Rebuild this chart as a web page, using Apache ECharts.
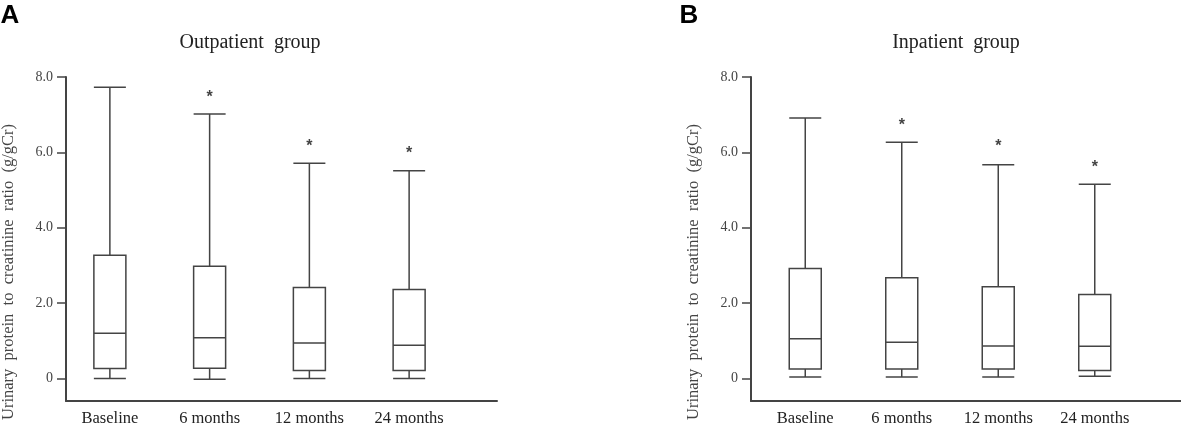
<!DOCTYPE html>
<html>
<head>
<meta charset="utf-8">
<script src="https://cdn.jsdelivr.net/npm/echarts@6/dist/echarts.min.js"></script>
<style>
  html, body { margin: 0; padding: 0; background: #fff; }
  #chart { width: 1181px; height: 423px; }
</style>
</head>
<body>
<div id="chart"></div>
<script>
'use strict';

// categories and tick labels
var categories = ['Baseline', '6 months', '12 months', '24 months'];
var yTicks = [0, 2, 4, 6, 8];

// [min, Q1, median, Q3, max]
var outpatientBoxes = [
    [0.00, 0.26, 1.20, 3.27, 7.73],
    [-0.02, 0.27, 1.08, 2.98, 7.02],
    [0.00, 0.21, 0.94, 2.41, 5.71],
    [0.00, 0.21, 0.88, 2.36, 5.51]
];
var inpatientBoxes = [
    [0.04, 0.25, 1.05, 2.92, 6.91],
    [0.04, 0.25, 0.96, 2.67, 6.27],
    [0.04, 0.25, 0.86, 2.43, 5.67],
    [0.06, 0.21, 0.85, 2.23, 5.15]
];
// height of the significance stars
var outpatientStars = ['-', 7.54, 6.22, 6.05];
var inpatientStars = ['-', 6.79, 6.22, 5.68];

var serif = '"Liberation Serif", "DejaVu Serif", serif';
var sans = '"Liberation Sans", Arial, sans-serif';
var yMin = -0.6, yMax = 8;

function frameY(grid) {
    return {
        type: 'value', gridIndex: grid, min: yMin, max: yMax,
        axisLine: { show: true, lineStyle: { color: '#444', width: 2 } },
        axisTick: { show: true, length: 9, customValues: yTicks, lineStyle: { color: '#444', width: 1.5 } },
        axisLabel: {
            show: true, customValues: yTicks, margin: 13,
            fontFamily: serif, fontSize: 14, color: '#444',
            formatter: function (v) { return v === 0 ? '0' : v.toFixed(1); }
        },
        splitLine: { show: false }
    };
}
function hiddenY(grid) {
    return { type: 'value', gridIndex: grid, min: yMin, max: yMax, show: false };
}
function frameX(grid) {
    return {
        type: 'value', gridIndex: grid, min: 0, max: 1,
        axisLine: { show: true, onZero: false, lineStyle: { color: '#444', width: 2 } },
        axisTick: { show: false }, axisLabel: { show: false }, splitLine: { show: false }
    };
}
function boxX(grid) {
    return {
        type: 'category', gridIndex: grid, data: categories,
        axisLine: { show: false }, axisTick: { show: false },
        axisLabel: { margin: 9, fontFamily: serif, fontSize: 16.5, color: '#222' }
    };
}
function boxSeries(axis, data) {
    return {
        type: 'boxplot', xAxisIndex: axis, yAxisIndex: axis, data: data,
        boxWidth: [32, 32], silent: true,
        itemStyle: { color: '#fff', borderColor: '#444', borderWidth: 1.5 },
        emphasis: { disabled: true }
    };
}
function starSeries(axis, data) {
    return {
        type: 'scatter', xAxisIndex: axis, yAxisIndex: axis, data: data,
        symbolSize: 1, silent: true, itemStyle: { color: 'rgba(0,0,0,0)' },
        label: {
            show: true, position: 'inside', formatter: '*', offset: [0, 3],
            fontFamily: sans, fontSize: 16, fontWeight: 'bold', color: '#111'
        }
    };
}
function sideText(x, y, text, size, rot, extra) {
    var style = { text: text, fontFamily: serif, fontSize: size, fill: '#222', textAlign: 'center', textVerticalAlign: 'middle' };
    for (var k in extra) style[k] = extra[k];
    return { type: 'text', x: x, y: y, rotation: rot, style: style, silent: true };
}
function grid(left, width) {
    return { left: left, top: 77, width: width, height: 324, containLabel: false, outerBoundsMode: 'none' };
}

var chart = echarts.init(document.getElementById('chart'));
chart.setOption({
    animation: false,
    grid: [grid(66, 431), grid(60, 399), grid(751, 430), grid(757, 386)],
    xAxis: [frameX(0), boxX(1), frameX(2), boxX(3)],
    yAxis: [frameY(0), hiddenY(1), frameY(2), hiddenY(3)],
    series: [
        boxSeries(1, outpatientBoxes),
        starSeries(1, outpatientStars),
        boxSeries(3, inpatientBoxes),
        starSeries(3, inpatientStars)
    ],
    graphic: [
        sideText(10, 16, 'A', 26, 0, { fontFamily: sans, fontWeight: 'bold', fill: '#000' }),
        sideText(689, 16, 'B', 26, 0, { fontFamily: sans, fontWeight: 'bold', fill: '#000' }),
        sideText(250, 43, 'Outpatient  group', 20, 0, {}),
        sideText(956, 43, 'Inpatient  group', 20, 0, {}),
        sideText(9, 272, 'Urinary  protein  to  creatinine  ratio  (g/gCr)', 16.5, Math.PI / 2, { fill: '#444' }),
        sideText(694, 272, 'Urinary  protein  to  creatinine  ratio  (g/gCr)', 16.5, Math.PI / 2, { fill: '#444' })
    ]
});
</script>
</body>
</html>
